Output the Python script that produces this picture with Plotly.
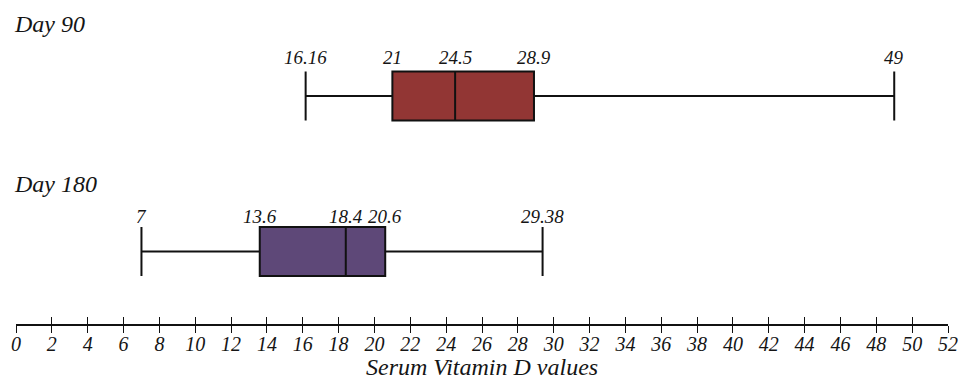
import plotly.graph_objects as go

# ---- data ----
groups = ["Day 90", "Day 180"]
lower_fence = [16.16, 7]
q1 = [21, 13.6]
median = [24.5, 18.4]
q3 = [28.9, 20.6]
upper_fence = [49, 29.38]
tick_vals = list(range(0, 53, 2))
tick_text = [str(v) for v in tick_vals]
x_title = "Serum Vitamin D values"

# ---- style ----
FAM = "Liberation Serif"
fills = ["#923634", "#5E4878"]
ypos = [1, 0]
label_shift = [38, 35]
label_font = dict(family=FAM, size=19, color="#151515", style="italic")
big_font = dict(family=FAM, size=24, color="#151515", style="italic")

fig = go.Figure()
for i, g in enumerate(groups):
    fig.add_trace(go.Box(
        y=[ypos[i]], orientation="h",
        q1=[q1[i]], median=[median[i]], q3=[q3[i]],
        lowerfence=[lower_fence[i]], upperfence=[upper_fence[i]],
        width=0.315, whiskerwidth=1,
        fillcolor=fills[i], line=dict(color="#111111", width=2),
        showlegend=False, hoverinfo="skip", name=g,
    ))
    for v in [lower_fence[i], q1[i], median[i], q3[i], upper_fence[i]]:
        fig.add_annotation(x=v, y=ypos[i], xref="x", yref="y", text=f"{v:g}",
                           showarrow=False, yshift=label_shift[i], yanchor="middle",
                           xanchor="center", font=label_font)

# group titles
fig.add_annotation(x=-0.0043, y=0.926, xref="paper", yref="paper", text=groups[0],
                   showarrow=False, xanchor="left", yanchor="middle", font=big_font)
fig.add_annotation(x=-0.0043, y=0.432, xref="paper", yref="paper", text=groups[1],
                   showarrow=False, xanchor="left", yanchor="middle", font=big_font)
# axis title
fig.add_annotation(x=0.5, y=-0.1327, xref="paper", yref="paper", text=x_title,
                   showarrow=False, xanchor="center", yanchor="middle", font=big_font)

axis_common = dict(range=[0, 52], tickmode="array", tickvals=tick_vals,
                   showgrid=False, zeroline=False, ticklen=7, tickwidth=1.3,
                   tickcolor="#111111")

fig.update_layout(
    width=959, height=383,
    margin=dict(l=16, r=11, t=0, b=59),
    paper_bgcolor="white", plot_bgcolor="white",
    font=dict(family=FAM, style="italic", color="#151515"),
    xaxis=dict(**axis_common, ticktext=tick_text, ticks="outside", showline=True,
               linecolor="#111111", linewidth=1.5, ticklabelstandoff=-6,
               tickfont=dict(family=FAM, size=20, style="italic", color="#151515"),
               fixedrange=True),
    xaxis2=dict(**axis_common, ticks="inside", overlaying="x", anchor="y", side="bottom",
                showticklabels=False, showline=False, matches="x"),
    yaxis=dict(range=[-0.467, 1.617], visible=False, fixedrange=True),
)
# invisible helper trace so the overlay axis is drawn
fig.add_trace(go.Scatter(x=[0, 52], y=[-1, -1], xaxis="x2", yaxis="y", mode="markers",
                         marker=dict(opacity=0), showlegend=False, hoverinfo="skip"))

fig.write_html("out.html", config={"displayModeBar": False},
               post_script="document.body.style.margin='0';")
